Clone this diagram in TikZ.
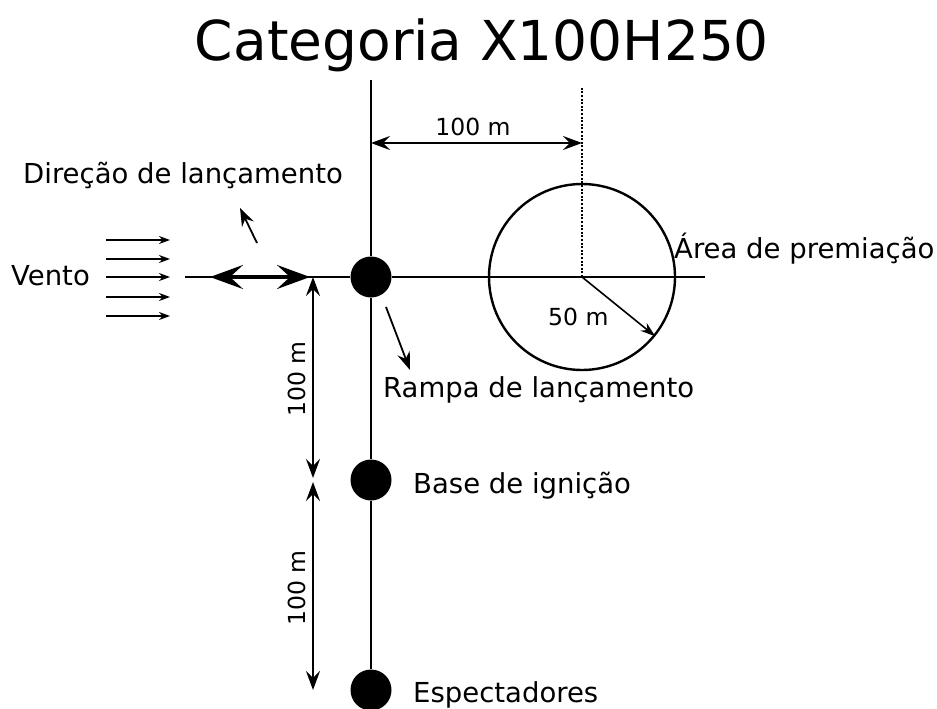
\documentclass[tikz,border=0pt]{standalone}
\usepackage{fontspec}
\setmainfont{DejaVu Sans}
\usetikzlibrary{arrows.meta}
\begin{document}
\begin{tikzpicture}[x=1pt,y=-1pt,
  dot/.style={circle,fill=black,minimum size=41pt,inner sep=0pt},
  lbl/.style={font=\fontsize{27.5}{31}\selectfont,inner sep=0pt,anchor=base west},
  dimlbl/.style={font=\fontsize{23.5}{27}\selectfont,inner sep=0pt},
  mainline/.style={line width=2.4pt},
  dimhead/.style={},
  dimline/.style={line width=1.8pt,{Stealth[length=19pt,width=14pt,inset=7pt]}-{Stealth[length=19pt,width=14pt,inset=7pt]}},
  windarrow/.style={line width=1.4pt,-{Stealth[length=11pt,width=8pt,inset=3.5pt]}},
  pointer/.style={line width=1.8pt,-{Stealth[length=18pt,width=13pt,inset=6pt]}},
  launcharrow/.style={line width=3.2pt,{Stealth[length=33pt,width=24pt,inset=13pt]}-{Stealth[length=33pt,width=24pt,inset=13pt]}},
]
\useasboundingbox (0,0) rectangle (937,709);

% title
\node[font=\fontsize{55}{60}\selectfont,inner sep=0pt,anchor=base] (title) at (482,60) {Categoria X100H250};

% main elements
\coordinate (vtop) at (371,80);
\coordinate (hwest) at (185,277);
\coordinate (heast) at (705,277);
\coordinate (dtop) at (582,88);
\node[dot] (ramp) at (371,277) {};
\node[dot] (base) at (371,480) {};
\node[dot] (spect) at (371,690) {};
\node[circle,draw,line width=2.4pt,minimum size=186pt,inner sep=0pt] (area) at (582,277) {};

\draw[mainline] (vtop) -- (ramp) -- (base) -- (spect);
\draw[mainline] (hwest) -- (ramp) -- (heast);
\draw[line width=2.6pt,dash pattern=on 2pt off 1.6pt] (area.center) -- (dtop);

% top dimension
\coordinate (dl) at (371,143);
\coordinate (dr) at (582,143);
\draw[dimline] (dl) -- (dr);
\node[dimlbl,anchor=base] (d1) at (473,135) {100 m};

% radius
\draw[line width=1.6pt,-{Stealth[length=15pt,width=10pt,inset=5pt]}] (area.center) -- (area.-39);
\node[dimlbl,anchor=base west] (d2) at (548,325) {50 m};

% vertical dimensions
\coordinate (v1) at (313,277);
\coordinate (v2) at (313,478);
\coordinate (v3) at (313,482);
\coordinate (v4) at (313,690);
\draw[dimline] (v1) -- (v2);
\draw[dimline] (v3) -- (v4);
\node[dimlbl,rotate=90,anchor=base] (d3) at (305,379) {100 m};
\node[dimlbl,rotate=90,anchor=base] (d4) at (305,588) {100 m};

% launch direction double arrow
\coordinate (la) at (210,277);
\coordinate (lb) at (310,277);
\draw[launcharrow] (la) -- (lb);

% wind
\foreach \y/\n in {240/1,259/2,277/3,297/4,316/5}{
  \coordinate (w\n a) at (106,\y);
  \coordinate (w\n b) at (170,\y);
  \draw[windarrow] (w\n a) -- (w\n b);
}
\node[lbl] (vento) at (11,285) {Vento};

% pointers
\coordinate (dira) at (257,243);
\coordinate (dirb) at (240,208);
\draw[pointer] (dira) -- (dirb);
\coordinate (rampa) at (386,307);
\coordinate (rampb) at (410,370);
\draw[pointer] (rampa) -- (rampb);

% labels
\node[lbl] (dir) at (23,183) {Direção de lançamento};
\node[lbl] (areal) at (674,258) {Área de premiação};
\node[lbl] (rampl) at (383,397) {Rampa de lançamento};
\node[lbl] (basel) at (413,493) {Base de ignição};
\node[lbl] (spectl) at (413,702) {Espectadores};
\end{tikzpicture}
\end{document}
